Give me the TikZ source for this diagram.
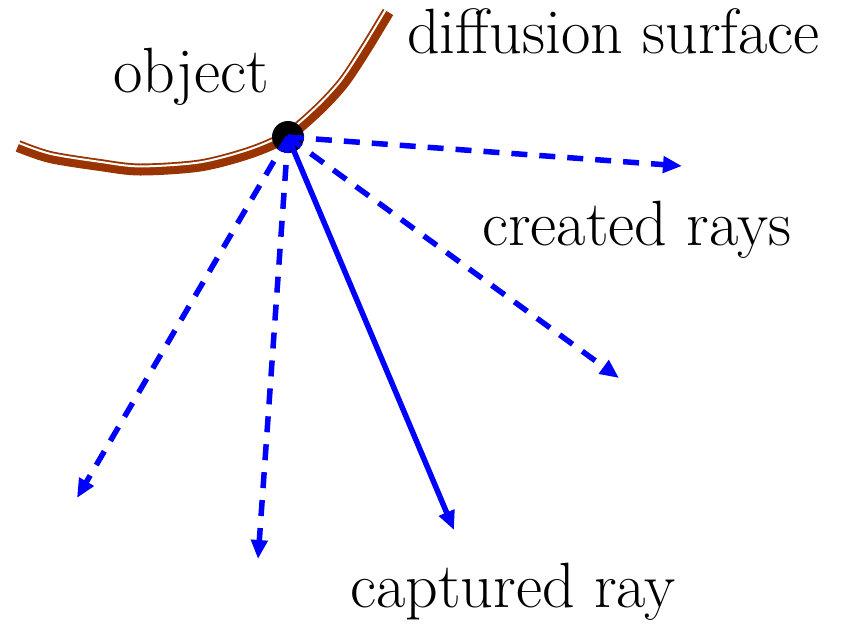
\documentclass[tikz,border=0pt]{standalone}
\usetikzlibrary{arrows.meta}
\definecolor{surf}{RGB}{153,51,0}
\begin{document}
\begin{tikzpicture}[x=1pt,y=-1pt,
  ray/.style={draw=blue, line width=5.5pt, -{Triangle[length=19pt,width=16pt]}},
  dashray/.style={ray, dash pattern=on 16pt off 12pt},
  lbl/.style={inner sep=0pt, anchor=base west, font=\fontsize{64}{72}\selectfont}]
\useasboundingbox (0,0) rectangle (855,627);
% diffusion surface
\draw[surf, line width=12pt] plot[smooth] coordinates {(18,146) (50,157) (100,165) (140,169.5) (200,165.5) (250,152.5) (287,136) (318,110) (343,83) (365,50) (388,12)};
\draw[white, line width=2pt] plot[smooth] coordinates {(18.9,143) (50.6,153.9) (100.4,161.9) (140,166.4) (199.5,162.4) (249,149.5) (285.2,133.4) (315.8,107.7) (340.5,81) (362.4,48.2) (385.3,10.4)};
% point
\node[circle, fill=black, minimum size=32pt, inner sep=0pt] (P) at (288,137) {};
% ray ends
\coordinate (r1) at (682,166);
\coordinate (r2) at (619,378);
\coordinate (r3) at (77,498);
\coordinate (r4) at (258,559);
\coordinate (r5) at (454,530);
\draw[dashray] (P.center) -- (r1);
\draw[dashray] (P.center) -- (r2);
\draw[dashray] (P.center) -- (r3);
\draw[dashray] (P.center) -- (r4);
\draw[ray] (P.center) -- (r5);
% labels
\node[lbl] (obj) at (113,92) {object};
\node[lbl] (diff) at (407,53) {diffusion surface};
\node[lbl] (cre) at (482,245) {created rays};
\node[lbl] (cap) at (350,607) {captured ray};
\end{tikzpicture}
\end{document}
